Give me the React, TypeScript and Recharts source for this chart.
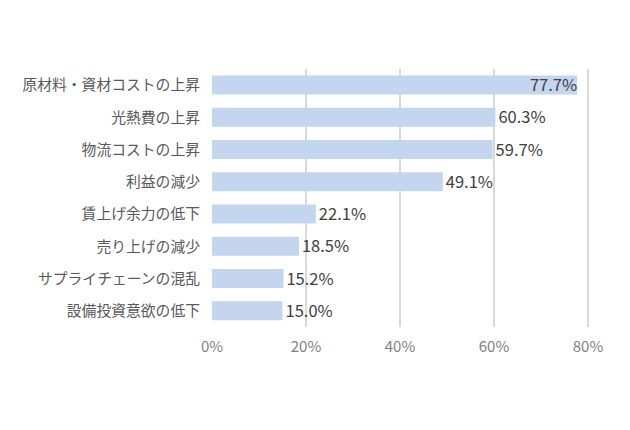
import React from "react";
import { BarChart, Bar, XAxis, YAxis, CartesianGrid, LabelList } from "recharts";

// Reasons (top to bottom) and share of respondents, %
const categories = [
  "原材料・資材コストの上昇",
  "光熱費の上昇",
  "物流コストの上昇",
  "利益の減少",
  "賃上げ余力の低下",
  "売り上げの減少",
  "サプライチェーンの混乱",
  "設備投資意欲の低下",
];
const values = [77.7, 60.3, 59.7, 49.1, 22.1, 18.5, 15.2, 15.0];
const xTicks = [0, 20, 40, 60, 80];

const data = categories.map((name, i) => ({ name, value: values[i] }));

const numFont = "'Noto Sans CJK JP', 'DejaVu Sans', sans-serif";

// Labels sit just past the bar end; the longest bar keeps its label inside.
function ValueLabel(props: any) {
  const { x, y, width, height, value } = props;
  const inside = value > 75;
  return (
    <text
      x={inside ? x + width : x + width + 3}
      y={y + height / 2}
      dy={6}
      textAnchor={inside ? "end" : "start"}
      fontSize={16.5}
      fontFamily={numFont}
      fill="#404040"
    >
      {`${value.toFixed(1)}%`}
    </text>
  );
}

// Gridlines at every tick except 0 (no line at the value axis origin).
function gridX({ xAxis, offset }: any) {
  const scale = xAxis && xAxis.scale;
  return xTicks.slice(1).map((t) =>
    typeof scale === "function" ? scale(t) : offset.left + (offset.width * t) / xTicks[xTicks.length - 1]
  );
}

export default function App() {
  return (
    <div style={{ position: "absolute", left: 0, top: 0, width: 630, height: 430, background: "#fff" }}>
      <BarChart
        width={630}
        height={430}
        data={data}
        layout="vertical"
        margin={{ top: 69, right: 42, bottom: 73, left: 0 }}
        barCategoryGap="20.5%"
      >
        <CartesianGrid horizontal={false} stroke="#d9d9d9" strokeWidth={2} verticalCoordinatesGenerator={gridX} />
        <XAxis
          type="number"
          domain={[0, 80]}
          ticks={xTicks}
          tickFormatter={(v) => `${v}%`}
          axisLine={false}
          tickLine={false}
          tickSize={0}
          tickMargin={14}
          height={30}
          tick={{ fontSize: 15, fill: "#7f7f7f", fontFamily: numFont }}
        />
        <YAxis
          type="category"
          dataKey="name"
          width={212}
          axisLine={false}
          tickLine={false}
          tickSize={0}
          tickMargin={12}
          interval={0}
          tick={{ fontSize: 14.8, fill: "#595959", fontFamily: "'Noto Sans CJK JP', sans-serif" }}
        />
        <Bar dataKey="value" fill="#c3d5ef" isAnimationActive={false}>
          <LabelList dataKey="value" content={ValueLabel} />
        </Bar>
      </BarChart>
    </div>
  );
}
